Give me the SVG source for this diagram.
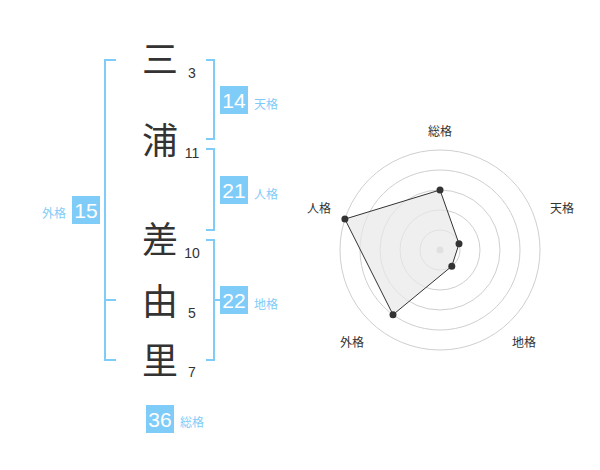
<svg xmlns="http://www.w3.org/2000/svg" width="600" height="470" viewBox="0 0 600 470">
<style>
.ch{font-family:"Noto Sans CJK JP","Noto Sans CJK SC",sans-serif;font-size:36px;fill:#333;text-anchor:middle}
.num{font-family:"Liberation Sans",Arial,sans-serif;font-size:14px;fill:#333;text-anchor:middle}
.br{fill:none;stroke:#80ccf8;stroke-width:2}
.box{fill:#80ccf8}
.bn{font-family:"Liberation Sans",Arial,sans-serif;font-size:21px;fill:#fff;text-anchor:middle}
.bl{font-family:"Noto Sans CJK JP","Noto Sans CJK SC",sans-serif;font-size:12px;fill:#80ccf8}
.ring{fill:none;stroke:#cfcfcf;stroke-width:1}
.rl{font-family:"Noto Sans CJK JP","Noto Sans CJK SC",sans-serif;font-size:12px;fill:#333;text-anchor:middle}
.pt{fill:#333}
</style>
<rect width="600" height="470" fill="#fff"/>
<g id="chars">
<g id="c1"><text class="ch" x="160" y="73">三</text><text class="num" x="192" y="78">3</text></g>
<g id="c2"><text class="ch" x="160" y="154">浦</text><text class="num" x="192" y="158">11</text></g>
<g id="c3"><text class="ch" x="160" y="253">差</text><text class="num" x="192" y="258">10</text></g>
<g id="c4"><text class="ch" x="160" y="315">由</text><text class="num" x="192" y="318">5</text></g>
<g id="c5"><text class="ch" x="160" y="374">里</text><text class="num" x="192" y="377">7</text></g>
</g>
<g id="connectors">
<path class="br" d="M116,60H105V360H116M105,300H116"/>
<path class="br" d="M206,60H214V139H206"/>
<path class="br" d="M206,149H214V230H206"/>
<path class="br" d="M206,240H214V360H206M214,300H221"/>
</g>
<g id="tenkaku"><rect class="box" x="220" y="86" width="28" height="28"/><text class="bn" x="234" y="108">14</text><text class="bl" x="254" y="109">天格</text></g>
<g id="jinkaku"><rect class="box" x="220" y="176" width="28" height="28"/><text class="bn" x="234" y="198">21</text><text class="bl" x="254" y="199">人格</text></g>
<g id="chikaku"><rect class="box" x="220" y="286" width="28" height="28"/><text class="bn" x="234" y="308">22</text><text class="bl" x="254" y="309">地格</text></g>
<g id="gaikaku"><rect class="box" x="72" y="196" width="28" height="28"/><text class="bn" x="86" y="218">15</text><text class="bl" x="42" y="218">外格</text></g>
<g id="soukaku"><rect class="box" x="146" y="405" width="28" height="28"/><text class="bn" x="160" y="427">36</text><text class="bl" x="180" y="427">総格</text></g>
<g id="radar">
<circle class="ring" cx="440" cy="250" r="20"/>
<circle class="ring" cx="440" cy="250" r="40"/>
<circle class="ring" cx="440" cy="250" r="60"/>
<circle class="ring" cx="440" cy="250" r="80"/>
<circle class="ring" cx="440" cy="250" r="100"/>
<circle cx="440" cy="250" r="3.5" fill="#ccc"/>
<polygon points="440,190 459,243.8 451.8,266.2 393,314.7 344.9,219.1" fill="#e8e8e8" fill-opacity="0.7" stroke="#333" stroke-width="1"/>
<circle class="pt" cx="440" cy="190" r="3.5"/>
<circle class="pt" cx="459" cy="243.8" r="3.5"/>
<circle class="pt" cx="451.8" cy="266.2" r="3.5"/>
<circle class="pt" cx="393" cy="314.7" r="3.5"/>
<circle class="pt" cx="344.9" cy="219.1" r="3.5"/>
<text class="rl" x="440" y="136">総格</text>
<text class="rl" x="562" y="213">天格</text>
<text class="rl" x="524" y="347">地格</text>
<text class="rl" x="352" y="347">外格</text>
<text class="rl" x="319" y="213">人格</text>
</g>
</svg>
